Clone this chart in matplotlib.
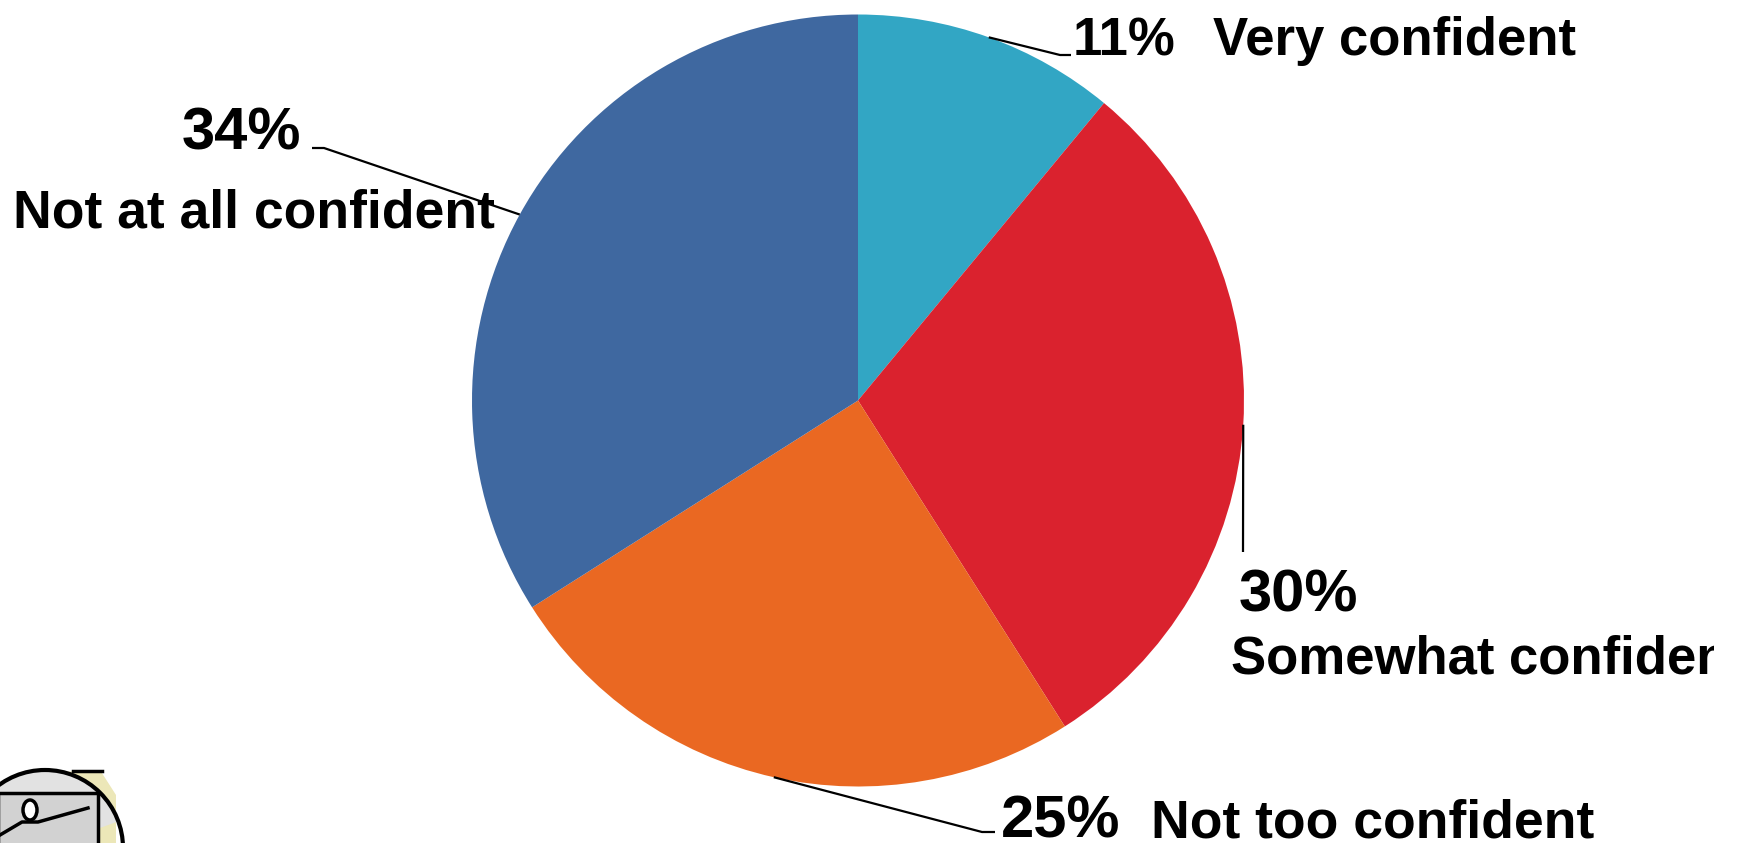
import numpy as np
import matplotlib.pyplot as plt
from matplotlib.patches import Polygon, Rectangle, Arc, Ellipse, Wedge
from matplotlib.transforms import Bbox, TransformedBbox

# survey answers, clockwise from 12 o'clock
categories = ['Very confident', 'Somewhat confident', 'Not too confident', 'Not at all confident']
shares = [11, 30, 25, 34]
colors = ['#32A6C4', '#DA222E', '#EA6822', '#3F68A0']

W, H = 1740, 843
fig = plt.figure(figsize=(W / 100, H / 100), dpi=100)
ax = fig.add_axes([0, 0, 1, 1])

cx, cy, r = 858, H - 400.5, 386
wedges, _ = ax.pie(shares, colors=colors, startangle=90, counterclock=False,
                   radius=r, center=(cx, cy), frame=True,
                   wedgeprops=dict(linewidth=0))
ax.set_xlim(0, W)
ax.set_ylim(0, H)
ax.set_aspect('equal')
ax.axis('off')

def edge(w):
    # point on the rim at the middle of the wedge
    a = np.deg2rad((w.theta1 + w.theta2) / 2)
    return cx + r * np.cos(a), cy + r * np.sin(a)

# leader lines: rim -> elbow -> end (pixel coords from the top)
legs = [
    [(1060, 55), (1071, 55)],
    [(1243, 552)],
    [(982, 832), (995, 832)],
    [(324, 148), (312, 148)],
]
for w, pts in zip(wedges, legs):
    x0, y0 = edge(w)
    xs = [x0] + [p[0] for p in pts]
    ys = [y0] + [H - p[1] for p in pts]
    ax.plot(xs, ys, color='black', lw=1.6, solid_capstyle='butt')

font = ['Liberation Sans', 'DejaVu Sans']
big, small = 43, 38

def txt(x, y, s, size, **kw):
    return ax.text(x, H - y, s, fontsize=size, fontweight='bold', family=font,
                   va='baseline', ha='left', color='black', **kw)

txt(1073, 55, f'{shares[0]}%', small)
txt(1213, 55, categories[0], small)

txt(1239, 612, f'{shares[1]}%', big)
t = txt(1231, 673, categories[1], small)
# the label runs off its box in the original
t.set_clip_box(TransformedBbox(Bbox([[0, 0], [1714 / W, 1]]), fig.transFigure))
t.set_clip_on(True)

txt(1001, 837, f'{shares[2]}%', big)
txt(1151, 837, categories[2], 38.5)

txt(182, 149, f'{shares[3]}%', big)
txt(13, 227, categories[3], 38.5)

# little clip-art logo in the corner (rough)
ax.add_patch(Polygon([(18, H - 774), (100, H - 770), (116, H - 795), (116, 0), (0, 0), (0, H - 785)],
                     closed=True, fc='#ECE7B8', ec='none'))
ax.add_patch(Wedge((45, H - 848), 78, 20, 160, fc='#E2E2E2', ec='none'))
ax.add_patch(Rectangle((-2, -2), 100, H - 793 + 2, fc='#D2D2D2', ec='black', lw=2.5))
ax.add_patch(Arc((45, H - 848), 156, 156, theta1=0, theta2=180, ec='black', lw=3))
ax.add_patch(Ellipse((30, H - 810), 14, 20, fc='white', ec='black', lw=2.5))
ax.plot([0, 22, 38, 88], [H - 835, H - 822, H - 822, H - 808], color='black', lw=2.5)
ax.plot([73, 102], [H - 771, H - 771], color='black', lw=2.5)

fig.savefig('out.png', dpi=100)
